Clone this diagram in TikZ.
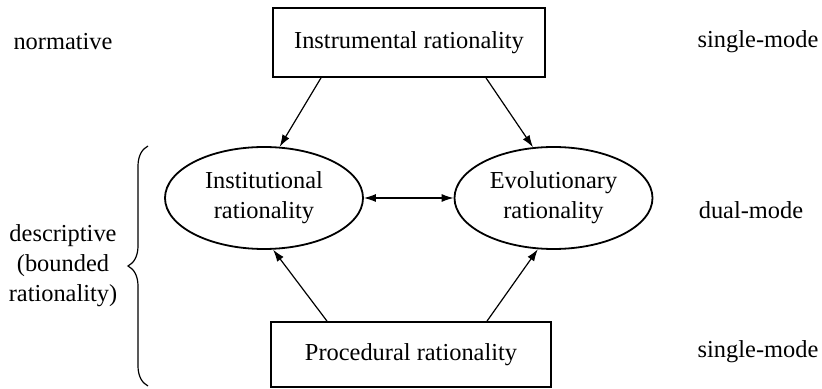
\documentclass[tikz,border=0pt]{standalone}
\usepackage{fontspec}
\setmainfont{Liberation Serif}
\usepackage{tikz}
\usetikzlibrary{shapes.geometric}
\usetikzlibrary{arrows.meta}
\usetikzlibrary{decorations.pathreplacing}
\begin{document}
\begin{tikzpicture}[x=0.5pt,y=-0.5pt,
	every node/.style={font=\rmfamily\fontsize{12.2}{15}\selectfont},
	box/.style={draw,line width=0.9pt,minimum width=136pt,minimum height=34.5pt,inner sep=0pt},
	oval/.style={draw,ellipse,line width=0.9pt,minimum width=99pt,minimum height=51pt,inner sep=0pt,align=center},
	arr/.style={-{Latex[length=6pt,width=4pt]},line width=0.6pt}]
		\useasboundingbox (0,0) rectangle (822,389);
		\node[box] (instr) at (409,42.5) {Instrumental rationality};
		\node[box,minimum width=140pt,minimum height=32.5pt] (proc) at (411,354.5) {Procedural rationality};
		\node[oval] (inst) at (264,198) {Institutional\\rationality};
		\node[oval] (evol) at (553.5,198) {Evolutionary\\rationality};
		\draw[arr] ([xshift=-44pt]instr.south) -- (inst.73);
		\draw[arr] ([xshift=38.5pt]instr.south) -- (evol.112);
		\draw[arr] ([xshift=-42pt]proc.north) -- (inst.280);
		\draw[arr] ([xshift=38pt]proc.north) -- (evol.253);
		\draw[arr,{Latex[length=6pt,width=4pt]}-{Latex[length=6pt,width=4pt]}] (inst) -- (evol);
		\node (normative) at (63,42) {normative};
		\node (singletop) at (758,42) {single-mode};
		\node (dual) at (751,210) {dual-mode};
		\node (singlebot) at (758,352) {single-mode};
		\node[align=center] (descr) at (63,266) {descriptive\\(bounded\\rationality)};
		\coordinate (braceTop) at (148,146);
		\coordinate (braceBot) at (148,386);
		\draw[decorate,decoration={brace,amplitude=10pt},line width=0.6pt] (braceBot) -- (braceTop);
	\end{tikzpicture}
\end{document}
